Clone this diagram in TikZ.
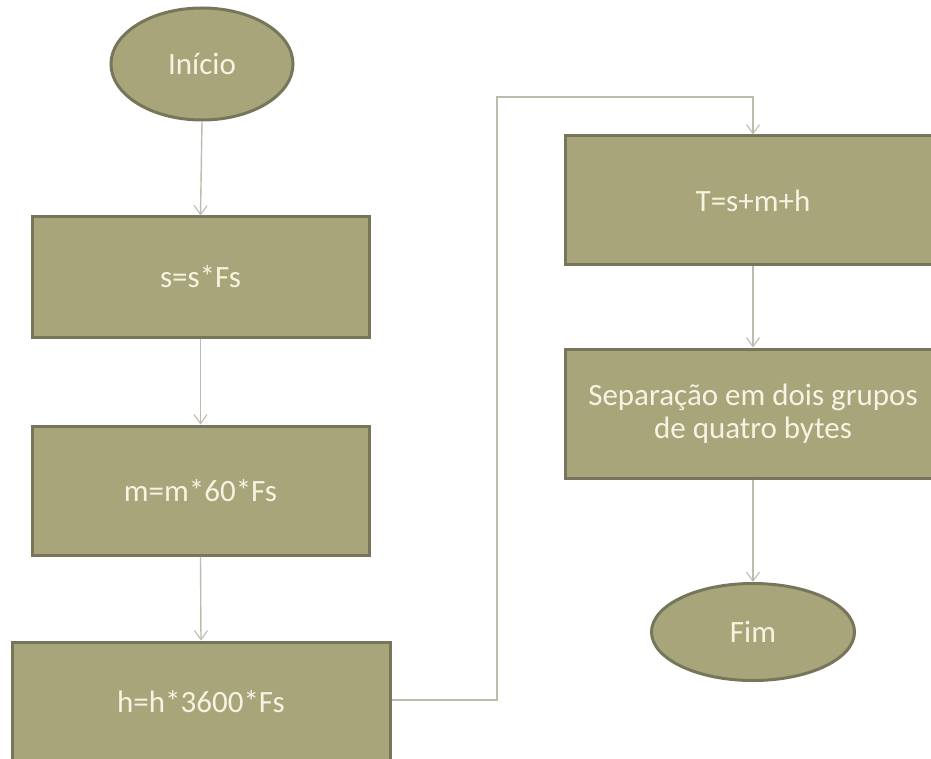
\documentclass[tikz,border=0pt]{standalone}
\usepackage{fontspec}
\setmainfont{Carlito}
\usetikzlibrary{shapes.geometric,arrows.meta}
\definecolor{boxfill}{HTML}{A8A57B}
\definecolor{boxline}{HTML}{77765A}
\definecolor{linkline}{HTML}{BDBDAF}
\definecolor{ink}{HTML}{F5F3E1}
\tikzset{
  flowbox/.style={rectangle, fill=boxfill, draw=boxline, line width=3pt,
    inner sep=0pt, text=ink, align=center,
    font=\fontsize{31}{33}\selectfont},
  terminal/.style={flowbox, ellipse},
  link/.style={draw=linkline, line width=1.4pt,
    -{Straight Barb[length=9pt,width=13pt,line width=1.1pt]}},
}
\begin{document}
\begin{tikzpicture}[x=1pt,y=-1pt]
  \fill[white] (0,0) rectangle (931,759);
  \useasboundingbox (0,0) rectangle (931,759);
  \clip (0,0) rectangle (931,759);

  % left column
  \node[terminal, minimum width=182pt, minimum height=112pt] (start) at (202,64) {Início};
  \node[flowbox, minimum width=337pt, minimum height=120pt] (sec) at (200.5,277) {s=s*Fs};
  \node[flowbox, minimum width=337pt, minimum height=129pt] (min) at (200.5,490.5) {m=m*60*Fs};
  \node[flowbox, minimum width=378pt, minimum height=120pt] (hour) at (201,702) {h=h*3600*Fs};

  % right column
  \node[flowbox, minimum width=376pt, minimum height=129pt] (total) at (753,200.5) {T=s+m+h};
  \node[flowbox, minimum width=376pt, minimum height=129pt] (split) at (753,413.5)
    {Separação em dois grupos\\de quatro bytes};
  \node[terminal, minimum width=203pt, minimum height=97pt] (stop) at (753,632) {Fim};

  % connectors
  \coordinate (up1) at (497,700);
  \coordinate (up2) at (497,97);
  \coordinate (up3) at (753,97);
  \draw[link] (start.south) -- (sec.north);
  \draw[link] (sec.south) -- (min.north);
  \draw[link] (min.south) -- (hour.north);
  \draw[link] (hour.east |- up1) -- (up1) -- (up2) -- (up3) -- (total.north);
  \draw[link] (total.south) -- (split.north);
  \draw[link] (split.south) -- (stop.north);
\end{tikzpicture}
\end{document}
